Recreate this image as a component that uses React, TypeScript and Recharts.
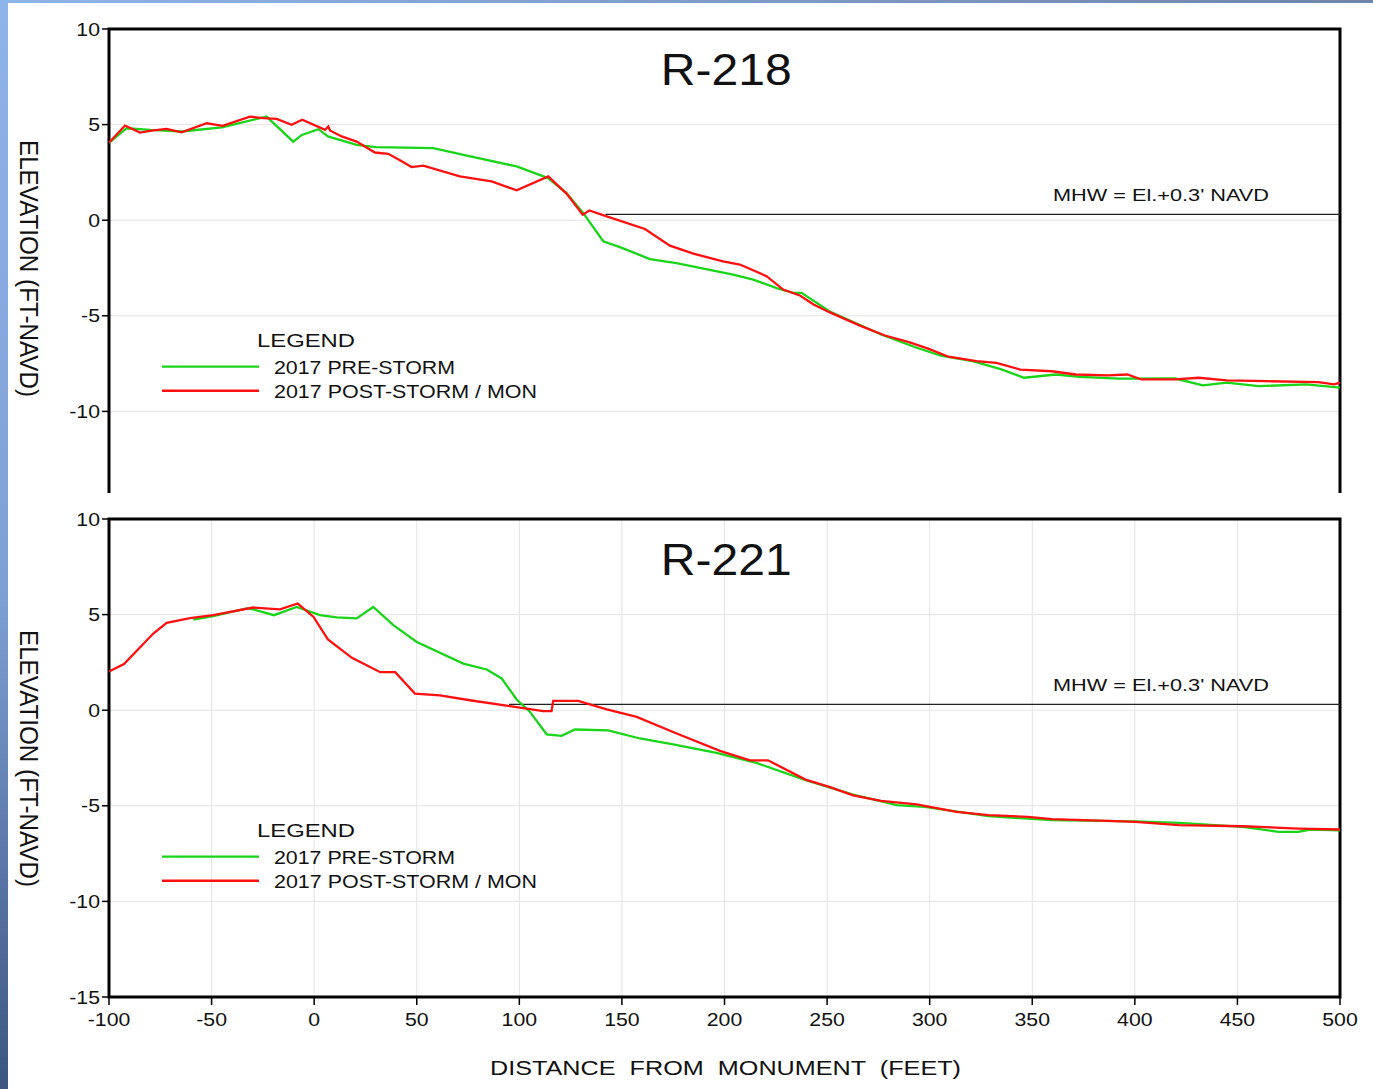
import { LineChart, Line, XAxis, YAxis, CartesianGrid, ReferenceArea, ReferenceLine } from "recharts";

const FONT = '"Liberation Sans", Arial, Helvetica, sans-serif';
const INK = "#111";
const GREEN = "#1ad41a";
const RED = "#ff1010";

// axes
const DIST_TICKS = [-100, -50, 0, 50, 100, 150, 200, 250, 300, 350, 400, 450, 500];
const ELEV_TICKS = [-15, -10, -5, 0, 5, 10];
const ELEV_TICKS_UPPER = [-10, -5, 0, 5, 10];
const MHW = 0.3;

// R-218, 2017 pre-storm
const r218PreDist = [-100, -91.4, -80, -64.6, -45, -23.2, -10.2, -6, 2.1, 6.7, 20.7, 30, 58, 75, 98.7, 114, 123, 131.1, 140.9, 150, 163.6, 176.6, 204.2, 214, 225.4, 233.5, 237.6, 251.1, 276.3, 293.7, 305.4, 320.9, 335, 346, 361.5, 373.2, 392.5, 419.6, 433.2, 444.8, 460.3, 483.5, 500];
const r218PreElev = [4.05, 4.81, 4.72, 4.64, 4.85, 5.42, 4.11, 4.46, 4.76, 4.38, 3.94, 3.82, 3.77, 3.37, 2.81, 2.2, 1.42, 0.38, -1.1, -1.45, -2.03, -2.24, -2.85, -3.11, -3.55, -3.8, -3.8, -4.76, -5.98, -6.67, -7.08, -7.37, -7.8, -8.24, -8.07, -8.19, -8.29, -8.28, -8.64, -8.5, -8.68, -8.59, -8.76];

// R-218, 2017 post-storm / monitoring
const r218PostDist = [-100, -92.2, -84.9, -79.2, -71.9, -64.6, -52.4, -44.6, -31.3, -24.8, -18.3, -11, -5.8, 5.3, 6.9, 7.7, 13.4, 20.7, 29.6, 36.1, 41.8, 47.5, 53.2, 71, 86.5, 98.7, 114.1, 123.1, 130.9, 134.1, 142.6, 161.2, 173.4, 184.8, 199.3, 207.5, 220.5, 228.6, 237, 243.4, 251.1, 266.6, 278.2, 289.9, 299.6, 309.2, 322.8, 332.5, 344.1, 359.6, 371.2, 386.7, 396.4, 403.2, 419.6, 431.2, 444.8, 464.2, 489.4, 497.1, 500];
const r218PostElev = [4.05, 4.95, 4.58, 4.69, 4.78, 4.6, 5.07, 4.93, 5.42, 5.34, 5.3, 4.99, 5.25, 4.73, 4.9, 4.69, 4.38, 4.11, 3.54, 3.47, 3.14, 2.78, 2.85, 2.29, 2.03, 1.56, 2.29, 1.38, 0.29, 0.51, 0.2, -0.46, -1.33, -1.75, -2.15, -2.32, -2.93, -3.63, -3.95, -4.41, -4.81, -5.54, -6.03, -6.38, -6.73, -7.14, -7.37, -7.46, -7.81, -7.9, -8.07, -8.12, -8.07, -8.33, -8.33, -8.24, -8.38, -8.42, -8.47, -8.59, -8.5];

// R-221, 2017 pre-storm
const r221PreDist = [-58.9, -49.2, -32.9, -29.7, -19.6, -8.5, 2.8, 11, 20.7, 28.8, 38.6, 50, 72.7, 84.1, 91.4, 98.7, 105.2, 113.3, 120.6, 127.1, 143.3, 158.8, 175, 196.1, 215.6, 239.5, 262.7, 284, 297.6, 328.6, 359.6, 400.2, 421.6, 452.5, 470, 479.7, 485.5, 500];
const r221PreElev = [4.74, 4.92, 5.32, 5.27, 4.97, 5.4, 4.97, 4.85, 4.8, 5.4, 4.45, 3.57, 2.44, 2.13, 1.66, 0.56, -0.09, -1.26, -1.34, -1.01, -1.05, -1.48, -1.79, -2.23, -2.76, -3.66, -4.41, -4.97, -5.06, -5.54, -5.75, -5.81, -5.89, -6.1, -6.36, -6.36, -6.24, -6.28];

// R-221, 2017 post-storm / monitoring
const r221PostDist = [-100, -92.7, -78.4, -71.9, -60.5, -49.2, -29.7, -16.7, -8, -0.3, 6.7, 18.4, 32.2, 39.5, 49.1, 61.3, 75.9, 95.4, 111.6, 115.7, 116.5, 128.7, 142.6, 157.2, 176.7, 197.8, 212.4, 221.2, 239.5, 251.1, 262.7, 276.3, 293.7, 313.1, 328.6, 347.9, 359.6, 386.7, 400.2, 421.6, 452.5, 479.7, 500];
const r221PostElev = [2.02, 2.41, 4.01, 4.57, 4.81, 4.97, 5.37, 5.27, 5.58, 4.88, 3.7, 2.74, 1.99, 1.99, 0.87, 0.77, 0.52, 0.21, -0.05, -0.05, 0.49, 0.49, 0.04, -0.35, -1.22, -2.13, -2.62, -2.62, -3.63, -4.01, -4.45, -4.74, -4.92, -5.32, -5.49, -5.58, -5.7, -5.79, -5.84, -6.01, -6.07, -6.19, -6.24];

// where the MHW line starts on each profile
const r218MhwFrom = 142;
const r221MhwFrom = 95;

const zip = (d: number[], e: number[]) => d.map((x, i) => ({ x, y: e[i] }));

function YTick({ x, y, payload }: any) {
  return (
    <g transform={`translate(${x},${y}) scale(1.15,1)`}>
      <text x={0} y={0} dy={6.6} textAnchor="end" fontSize={18.5} fontFamily={FONT} fill={INK}>
        {payload.value}
      </text>
    </g>
  );
}

function XTick({ x, y, payload }: any) {
  return (
    <g transform={`translate(${x},${y}) scale(1.15,1)`}>
      <text x={0} y={0} dy={19} textAnchor="middle" fontSize={18.5} fontFamily={FONT} fill={INK}>
        {payload.value}
      </text>
    </g>
  );
}

type Pt = { x: number; y: number };

// upper = the R-218 panel, whose bottom strip is covered by the R-221 panel
function Profile({ pre, post, mhwFrom, upper }: { pre: Pt[]; post: Pt[]; mhwFrom: number; upper?: boolean }) {
  return (
    <LineChart width={1373} height={542} margin={{ top: 24, right: 33, bottom: 0, left: 0 }}>
      <CartesianGrid stroke="#e4e4e4" strokeWidth={1} />
      <XAxis
        type="number"
        dataKey="x"
        domain={[-100, 500]}
        ticks={DIST_TICKS}
        allowDataOverflow
        axisLine={false}
        tickSize={8}
        tickLine={upper ? false : { stroke: "#000", strokeWidth: 1.5 }}
        tick={upper ? false : <XTick />}
        height={40}
      />
      <YAxis
        type="number"
        domain={[-15, 10]}
        ticks={upper ? ELEV_TICKS_UPPER : ELEV_TICKS}
        allowDataOverflow
        axisLine={false}
        tickSize={7}
        tickLine={{ stroke: "#000", strokeWidth: 1.5 }}
        tick={<YTick />}
        width={109}
      />
      <ReferenceLine segment={[{ x: mhwFrom, y: MHW }, { x: 500, y: MHW }]} stroke="#222" strokeWidth={1.3} />
      <Line data={pre} dataKey="y" type="linear" stroke={GREEN} strokeWidth={2.3} dot={false} isAnimationActive={false} />
      <Line data={post} dataKey="y" type="linear" stroke={RED} strokeWidth={2.3} dot={false} isAnimationActive={false} />
      <ReferenceArea x1={-100} x2={500} y1={-15} y2={10} fill="none" stroke="#000" strokeWidth={3} />
    </LineChart>
  );
}

function PanelText({ title, dy }: { title: string; dy: number }) {
  const t = { fontFamily: FONT, fill: INK };
  return (
    <g transform={`translate(0,${dy})`}>
      <text x={660.7} y={85} fontSize={45} textLength={131} lengthAdjust="spacingAndGlyphs" {...t}>{title}</text>
      <text x={1053} y={201} fontSize={16} textLength={216} lengthAdjust="spacingAndGlyphs" {...t}>MHW = El.+0.3' NAVD</text>
      <text x={257} y={347} fontSize={18.6} textLength={98} lengthAdjust="spacingAndGlyphs" {...t}>LEGEND</text>
      <line x1={162} x2={259} y1={366.7} y2={366.7} stroke={GREEN} strokeWidth={2.2} />
      <text x={274} y={374.3} fontSize={18} textLength={181} lengthAdjust="spacingAndGlyphs" {...t}>2017 PRE-STORM</text>
      <line x1={162} x2={259} y1={390.7} y2={390.7} stroke={RED} strokeWidth={2.4} />
      <text x={274} y={398.3} fontSize={18} textLength={263} lengthAdjust="spacingAndGlyphs" {...t}>2017 POST-STORM / MON</text>
      <text transform="translate(20,268.5) rotate(90)" textAnchor="middle" fontSize={25} textLength={257} lengthAdjust="spacingAndGlyphs" {...t}>
        ELEVATION (FT-NAVD)
      </text>
    </g>
  );
}

export default function App() {
  return (
    <div
      style={{
        position: "absolute", left: 0, top: 0, width: 1373, height: 1089, overflow: "hidden",
        background: "linear-gradient(180deg, #8fb4ea 0%, #7e9fd4 55%, #3d5580 100%)",
      }}
    >
      <div style={{ position: "absolute", left: 0, top: 0, width: 1373, height: 3, background: "linear-gradient(90deg, #8fb4ea, #6f86aa)" }} />
      <div style={{ position: "absolute", left: 8, top: 3, right: 0, bottom: 0, background: "#fff" }} />

      {/* R-218: lower edge hidden under the second panel */}
      <div style={{ position: "absolute", left: 0, top: 5, width: 1373, height: 488, overflow: "hidden" }}>
        <Profile pre={zip(r218PreDist, r218PreElev)} post={zip(r218PostDist, r218PostElev)} mhwFrom={r218MhwFrom} upper />
      </div>

      <div style={{ position: "absolute", left: 0, top: 495, width: 1373, height: 542 }}>
        <Profile pre={zip(r221PreDist, r221PreElev)} post={zip(r221PostDist, r221PostElev)} mhwFrom={r221MhwFrom} />
      </div>

      <svg width={1373} height={1089} style={{ position: "absolute", left: 0, top: 0, pointerEvents: "none" }}>
        <PanelText title="R-218" dy={0} />
        <PanelText title="R-221" dy={490} />
        <text
          x={490} y={1075} fontSize={21} fontFamily={FONT} fill={INK}
          textLength={471} lengthAdjust="spacingAndGlyphs" style={{ whiteSpace: "pre" }}
        >
          {"DISTANCE  FROM  MONUMENT  (FEET)"}
        </text>
      </svg>
    </div>
  );
}
